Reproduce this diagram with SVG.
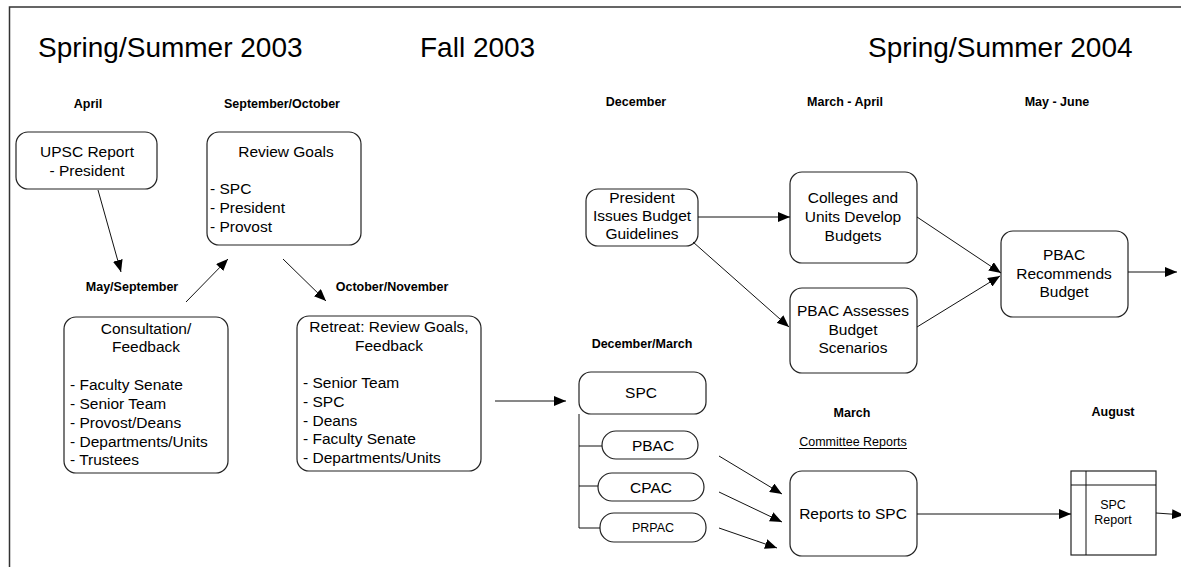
<svg xmlns="http://www.w3.org/2000/svg" width="1181" height="567" viewBox="0 0 1181 567">
<defs>
<style>
text{font-family:"Liberation Sans",Arial,sans-serif;fill:#000}
.title{font-size:28px}
.lbl{font-size:12.5px;font-weight:bold;text-anchor:middle}
.t{font-size:15.5px}
.c{text-anchor:middle}
.s{font-size:12.5px}
.box{fill:#fff;stroke:#222;stroke-width:1.2}
.ln{stroke:#111;stroke-width:1;fill:none}
.ar{stroke:#111;stroke-width:1;fill:none;marker-end:url(#ah)}
</style>
<marker id="ah" viewBox="0 0 12 10" refX="12" refY="5" markerWidth="12" markerHeight="10" markerUnits="userSpaceOnUse" orient="auto">
<path d="M0,0 L12,5 L0,10 Z" fill="#000"/>
</marker>
</defs>
<rect width="1181" height="567" fill="#fff"/>
<path d="M9.5,567 V7 H1181" fill="none" stroke="#333" stroke-width="1.5"/>

<g id="titles">
<text class="title" x="38" y="57">Spring/Summer 2003</text>
<text class="title" x="420" y="57">Fall 2003</text>
<text class="title" x="868" y="57">Spring/Summer 2004</text>
</g>

<g id="labels">
<text class="lbl" x="88" y="108">April</text>
<text class="lbl" x="282" y="108">September/October</text>
<text class="lbl" x="132" y="291">May/September</text>
<text class="lbl" x="392" y="291">October/November</text>
<text class="lbl" x="636" y="106">December</text>
<text class="lbl" x="845" y="106">March - April</text>
<text class="lbl" x="1057" y="106">May - June</text>
<text class="lbl" x="642" y="348">December/March</text>
<text class="lbl" x="852" y="417">March</text>
<text class="lbl" x="1113" y="416">August</text>
<text class="s c" x="853" y="446">Committee Reports</text>
<line x1="799" y1="448.5" x2="907" y2="448.5" stroke="#000" stroke-width="1"/>
</g>

<g id="upsc">
<rect class="box" x="16" y="132" width="141" height="57" rx="12"/>
<text class="t c" x="87" y="157">UPSC Report</text>
<text class="t c" x="87" y="176">- President</text>
</g>

<g id="review">
<rect class="box" x="207" y="132" width="154" height="113" rx="12"/>
<text class="t c" x="286" y="157">Review Goals</text>
<text class="t" x="210" y="194">- SPC</text>
<text class="t" x="210" y="213">- President</text>
<text class="t" x="210" y="232">- Provost</text>
</g>

<g id="consultation">
<rect class="box" x="64" y="317" width="164" height="156" rx="12"/>
<text class="t c" x="146" y="334">Consultation/</text>
<text class="t c" x="146" y="352">Feedback</text>
<text class="t" x="70" y="390">- Faculty Senate</text>
<text class="t" x="70" y="409">- Senior Team</text>
<text class="t" x="70" y="428">- Provost/Deans</text>
<text class="t" x="70" y="447">- Departments/Units</text>
<text class="t" x="70" y="465">- Trustees</text>
</g>

<g id="retreat">
<rect class="box" x="297" y="316" width="184" height="155" rx="12"/>
<text class="t c" x="389" y="332">Retreat: Review Goals,</text>
<text class="t c" x="389" y="351">Feedback</text>
<text class="t" x="303" y="388">- Senior Team</text>
<text class="t" x="303" y="407">- SPC</text>
<text class="t" x="303" y="426">- Deans</text>
<text class="t" x="303" y="444">- Faculty Senate</text>
<text class="t" x="303" y="463">- Departments/Units</text>
</g>

<g id="spc">
<rect class="box" x="579" y="372" width="127" height="42" rx="12"/>
<text class="t c" x="641" y="398">SPC</text>
</g>
<g id="pbac">
<rect class="box" x="602" y="431" width="96" height="28" rx="14"/>
<text class="t c" x="653" y="451">PBAC</text>
</g>
<g id="cpac">
<rect class="box" x="598" y="473" width="106" height="28" rx="14"/>
<text class="t c" x="651" y="493">CPAC</text>
</g>
<g id="prpac">
<rect class="box" x="600" y="513" width="106" height="29" rx="14"/>
<text class="s c" x="653" y="532">PRPAC</text>
</g>

<g id="president">
<rect class="box" x="586" y="189" width="112" height="57" rx="12"/>
<text class="t c" x="642" y="203">President</text>
<text class="t c" x="642" y="221">Issues Budget</text>
<text class="t c" x="642" y="239">Guidelines</text>
</g>

<g id="colleges">
<rect class="box" x="790" y="172" width="127" height="91" rx="12"/>
<text class="t c" x="853" y="203">Colleges and</text>
<text class="t c" x="853" y="222">Units Develop</text>
<text class="t c" x="853" y="241">Budgets</text>
</g>

<g id="assesses">
<rect class="box" x="790" y="288" width="127" height="85" rx="12"/>
<text class="t c" x="853" y="316">PBAC Assesses</text>
<text class="t c" x="853" y="335">Budget</text>
<text class="t c" x="853" y="353">Scenarios</text>
</g>

<g id="recommends">
<rect class="box" x="1001" y="231" width="127" height="86" rx="12"/>
<text class="t c" x="1064" y="260">PBAC</text>
<text class="t c" x="1064" y="279">Recommends</text>
<text class="t c" x="1064" y="297">Budget</text>
</g>

<g id="reports">
<rect class="box" x="790" y="471" width="127" height="85" rx="12"/>
<text class="t c" x="853" y="519">Reports to SPC</text>
</g>

<g id="spcreport">
<rect class="box" x="1071" y="471" width="85" height="84"/>
<line class="ln" x1="1086" y1="471" x2="1086" y2="555"/>
<line class="ln" x1="1071" y1="485" x2="1156" y2="485"/>
<text class="s c" x="1113" y="509">SPC</text>
<text class="s c" x="1113" y="524">Report</text>
</g>

<g id="connectors">
<line class="ar" x1="98" y1="190" x2="121" y2="272"/>
<line class="ar" x1="186" y1="302" x2="228" y2="259"/>
<line class="ar" x1="283" y1="259" x2="326" y2="301"/>
<line class="ar" x1="495" y1="401" x2="566" y2="401"/>
<path class="ln" d="M579,414 V528 M579,446 H602 M579,486 H598 M579,528 H600"/>
<line class="ar" x1="719" y1="456" x2="782" y2="494"/>
<line class="ar" x1="719" y1="492" x2="782" y2="522"/>
<line class="ar" x1="719" y1="528" x2="777" y2="548"/>
<line class="ar" x1="917" y1="514" x2="1071" y2="514"/>
<line class="ar" x1="1156" y1="513" x2="1184" y2="515"/>
<line class="ar" x1="698" y1="217" x2="790" y2="217"/>
<line class="ar" x1="693" y1="242" x2="789" y2="327"/>
<line class="ar" x1="917" y1="217" x2="1001" y2="273"/>
<line class="ar" x1="917" y1="327" x2="1000" y2="276"/>
<line class="ar" x1="1128" y1="272" x2="1177" y2="272"/>
</g>
</svg>
